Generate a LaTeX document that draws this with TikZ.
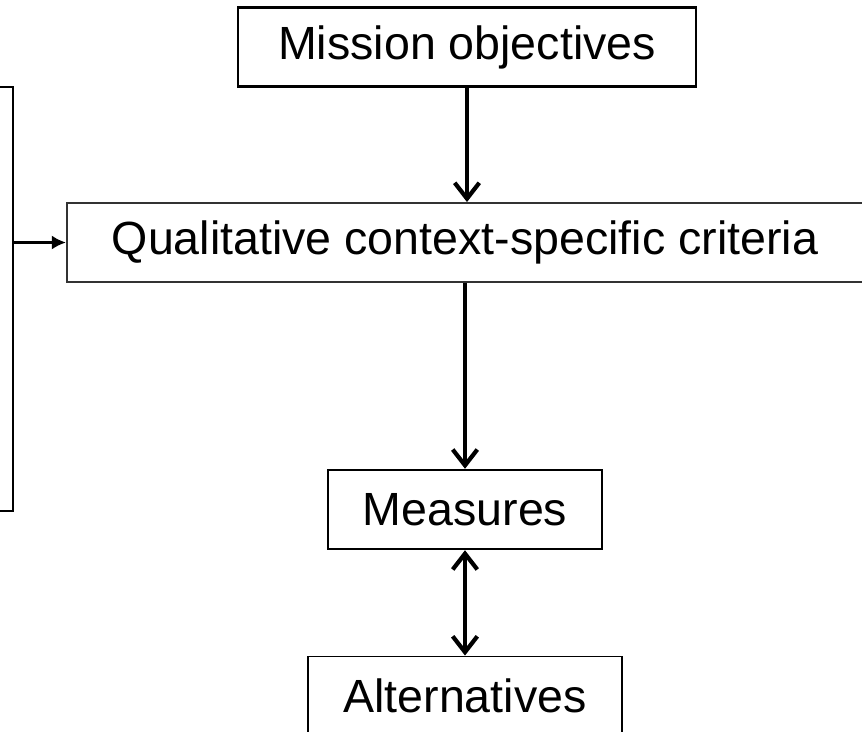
\documentclass[tikz,border=0pt]{standalone}
\usepackage{fontspec}
\setmainfont{Liberation Sans}
\usetikzlibrary{arrows.meta}

\begin{document}
\begin{tikzpicture}[x=0.02cm, y=-0.02cm,
    box/.style={draw, line width=1.1pt, minimum height=1.58cm, inner xsep=0.7cm,
      font=\fontsize{26.5}{30}\selectfont},
    flow/.style={line width=2.4pt, -{Straight Barb[length=9pt, width=14pt]}},
    both/.style={line width=2.4pt, {Straight Barb[length=9pt, width=14pt]}-{Straight Barb[length=9pt, width=14pt]}}]
  \useasboundingbox (0, 0) rectangle (862, 731);

  \node [box, line width=1.5pt, inner xsep=0.8cm] (mission) at (467, 47) {Mission objectives};
  \node [box, draw=black!80, inner xsep=0.9cm] (qual) at (465, 242.5) {Qualitative context-specific criteria};
  \node [box, line width=1.4pt] (measures) at (465, 509.5) {Measures};
  \node [box] (alt) at (465, 696) {Alternatives};
  \node [draw, line width=1.5pt, minimum width=1cm, minimum height=8.48cm] (ctx) at (-12, 299) {};

  \draw [flow] (mission.south) -- (mission.south |- qual.north);
  \draw [flow] (qual.south) -- (qual.south |- measures.north);
  \draw [both] (measures) -- (alt);
  \draw [line width=1.2pt, -{Latex[length=8pt, width=8pt]}] (ctx.east |- qual) -- (qual.west);
\end{tikzpicture}
\end{document}
